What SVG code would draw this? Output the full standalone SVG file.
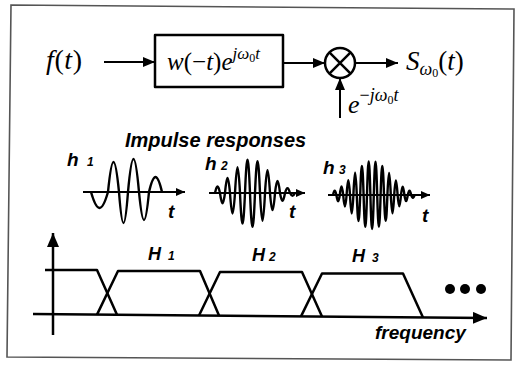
<svg xmlns="http://www.w3.org/2000/svg" width="517" height="365" viewBox="0 0 517 365">
<defs>
<style>
.it{font-style:italic}
.lab{font-family:"Liberation Sans",Arial,sans-serif;font-weight:bold;font-style:italic;fill:#000}
.ln{fill:none;stroke:#000;stroke-width:2}
.thick{fill:none;stroke:#000;stroke-width:2.5;stroke-linejoin:round}
.wave{fill:none;stroke:#000;stroke-width:2.4;stroke-linejoin:round}
</style>
<marker id="ah" viewBox="0 0 12 10" refX="12" refY="5" markerWidth="12" markerHeight="10" markerUnits="userSpaceOnUse" orient="auto">
<path d="M0,0 L12,5 L0,10 z" fill="#000"/>
</marker>
<marker id="ahBig" viewBox="0 0 14 12" refX="14" refY="6" markerWidth="14" markerHeight="12" markerUnits="userSpaceOnUse" orient="auto">
<path d="M0,0 L14,6 L0,12 z" fill="#000"/>
</marker>
<marker id="ahSm" viewBox="0 0 9 8" refX="9" refY="4" markerWidth="9" markerHeight="8" markerUnits="userSpaceOnUse" orient="auto">
<path d="M0,0 L9,4 L0,8 z" fill="#000"/>
</marker>
</defs>
<rect width="517" height="365" fill="#fff"/>
<polygon id="frame" points="11,5 514,9 511,360 7,357" fill="none" stroke="#555" stroke-width="1.6"/>

<g font-family="'Liberation Serif','DejaVu Serif','Times New Roman',serif" fill="#000">
<g id="input-f">
<text x="46" y="69" font-size="28" letter-spacing="0.6"><tspan class="it">f</tspan>(<tspan class="it">t</tspan>)</text>
</g>
<g id="filter-box">
<rect x="155" y="35" width="128" height="52" class="thick"/>
<text x="167" y="70" font-size="25"><tspan class="it">w</tspan>(−<tspan class="it">t</tspan>)<tspan class="it">e</tspan><tspan class="it" font-size="17" dy="-11">jω</tspan><tspan font-size="12" dy="3">0</tspan><tspan class="it" font-size="17" dy="-3">t</tspan></text>
</g>
<g id="multiplier">
<circle cx="340" cy="63" r="15" class="thick"/>
<path d="M329.4,52.4 L350.6,73.6 M350.6,52.4 L329.4,73.6" class="thick"/>
</g>
<g id="output-s">
<text x="406" y="70" font-size="27"><tspan class="it">S</tspan><tspan class="it" font-size="18" dy="5">ω</tspan><tspan font-size="12" dy="2">0</tspan><tspan dy="-7">(</tspan><tspan class="it">t</tspan>)</text>
</g>
<g id="carrier">
<text x="348" y="113" font-size="26"><tspan class="it">e</tspan><tspan font-size="18" dy="-12">−</tspan><tspan class="it" font-size="18">jω</tspan><tspan font-size="12" dy="3">0</tspan><tspan class="it" font-size="18" dy="-3">t</tspan></text>
</g>
</g>
<g id="connectors">
<line x1="104" y1="62" x2="155" y2="62" class="ln" marker-end="url(#ah)"/>
<line x1="283" y1="63" x2="325" y2="63" class="ln" marker-end="url(#ah)"/>
<line x1="355" y1="63" x2="398" y2="63" class="ln" marker-end="url(#ah)"/>
<line x1="340" y1="118" x2="340" y2="78" class="ln" marker-end="url(#ah)"/>
</g>

<g id="title">
<text class="lab" x="125" y="147" font-size="20">Impulse responses</text>
</g>
<g id="h1">
<text class="lab" x="67" y="166" font-size="19">h</text>
<text class="lab" x="87" y="166" font-size="12">1</text>
<line x1="83" y1="192" x2="185" y2="192" class="ln" marker-end="url(#ahSm)"/>
<path class="wave" d="M91 192 C97.1 213.3 101.9 213.3 108 192 C112 152 115 152 119 192 C122.2 233.3 124.8 233.3 128 192 C132 148 135 148 139 192 C142.6 229.3 145.4 229.3 149 192 C153.7 172 157.3 172 162 192"/>
<text class="lab" x="168" y="218" font-size="19">t</text>
</g>
<g id="h2">
<text class="lab" x="205" y="170" font-size="19">h</text>
<text class="lab" x="221" y="170" font-size="12">2</text>
<line x1="209" y1="193" x2="305" y2="193" class="ln" marker-end="url(#ahSm)"/>
<path class="wave" transform="translate(-4,0)" d="M219 193 C220.8 184.3 222.2 184.3 224 193 C225.8 206.6 227.2 206.6 229 193 C230.8 173 232.2 173 234 193 C235.8 220.3 237.2 220.3 239 193 C240.8 158.5 242.2 158.5 244 193 C245.8 233.8 247.2 233.8 249 193 C250.8 148.5 252.2 148.5 254 193 C255.8 238.2 257.2 238.2 259 193 C260.8 150.5 262.2 150.5 264 193 C265.8 230.2 267.2 230.2 269 193 C270.8 162.7 272.2 162.7 274 193 C275.8 215.9 277.2 215.9 279 193 C280.8 177 282.2 177 284 193 C285.8 203.4 287.2 203.4 289 193 C290.8 186.7 292.2 186.7 294 193 C295.8 196.6 297.2 196.6 299 193"/>
<text class="lab" x="289" y="218" font-size="19">t</text>
</g>
<g id="h3">
<text class="lab" x="323" y="174" font-size="19">h</text>
<text class="lab" x="339" y="174" font-size="12">3</text>
<line x1="328" y1="195" x2="430" y2="195" class="ln" marker-end="url(#ahSm)"/>
<path class="wave" d="M333 195 C334.22 189.1 335.18 189.1 336.4 195 C337.62 203.3 338.58 203.3 339.8 195 C341.02 183.5 341.98 183.5 343.2 195 C344.42 210.3 345.38 210.3 346.6 195 C347.82 175.3 348.78 175.3 350 195 C351.22 219.7 352.18 219.7 353.4 195 C354.62 165.3 355.58 165.3 356.8 195 C358.02 229.7 358.98 229.7 360.2 195 C361.42 156.1 362.38 156.1 363.6 195 C364.82 237.4 365.78 237.4 367 195 C368.22 150.3 369.18 150.3 370.4 195 C371.62 240.3 372.58 240.3 373.8 195 C375.02 150.5 375.98 150.5 377.2 195 C378.42 237.3 379.38 237.3 380.6 195 C381.82 156.2 382.78 156.2 384 195 C385.22 229.4 386.18 229.4 387.4 195 C388.62 165.5 389.58 165.5 390.8 195 C392.02 219.4 392.98 219.4 394.2 195 C395.42 175.5 396.38 175.5 397.6 195 C398.82 210.1 399.78 210.1 401 195 C402.22 183.8 403.18 183.8 404.4 195 C405.62 203.1 406.58 203.1 407.8 195 C409.02 189.3 409.98 189.3 411.2 195 C412.42 198.9 413.38 198.9 414.6 195"/>
<text class="lab" x="422" y="222" font-size="19">t</text>
</g>

<g id="spectrum-axes">
<line x1="53" y1="335" x2="53" y2="233" class="thick" marker-end="url(#ahBig)"/>
<line x1="33" y1="314" x2="487" y2="318" class="thick" marker-end="url(#ahBig)"/>
<text class="lab" x="375" y="339" font-size="19">frequency</text>
</g>
<g id="H0">
<polyline class="thick" points="45,270 97,270 117,314.7"/>
</g>
<g id="H1">
<polyline class="thick" points="97,314.6 118,271 200,271 219,315.6"/>
<text class="lab" x="148" y="260" font-size="18">H</text>
<text class="lab" x="168" y="260" font-size="12" font-style="normal">1</text>
</g>
<g id="H2">
<polyline class="thick" points="199,315.5 220,272 302,272 322,316.5"/>
<text class="lab" x="252" y="261" font-size="18">H</text>
<text class="lab" x="269" y="261" font-size="12" font-style="normal">2</text>
</g>
<g id="H3">
<polyline class="thick" points="301,316.4 322,273.5 403,273.5 423,317.4"/>
<text class="lab" x="352" y="262" font-size="18">H</text>
<text class="lab" x="372" y="262" font-size="12" font-style="normal">3</text>
</g>
<g id="ellipsis">
<circle cx="450" cy="289" r="5" fill="#000"/>
<circle cx="465" cy="289" r="5" fill="#000"/>
<circle cx="481" cy="289" r="5" fill="#000"/>
</g>
</svg>
